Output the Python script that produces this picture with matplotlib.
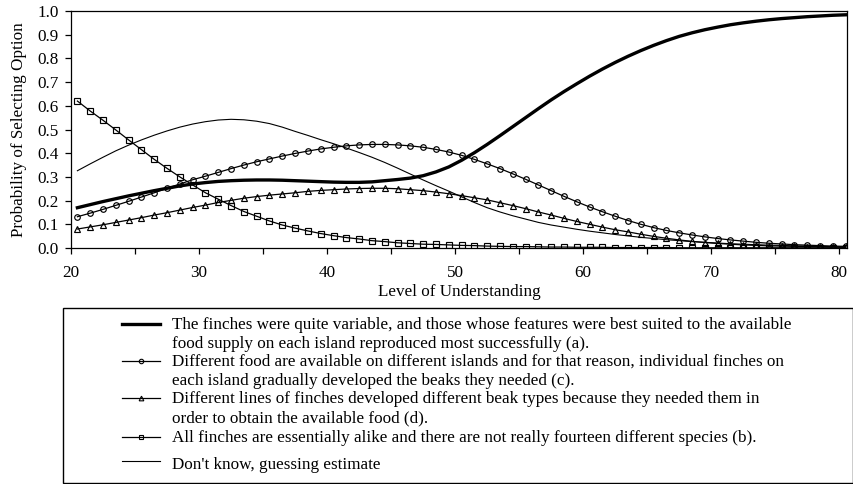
import numpy as np
import matplotlib
matplotlib.use("Agg")
import matplotlib.pyplot as plt
from matplotlib.patches import Rectangle

plt.rcParams['font.family'] = ['Liberation Serif', 'DejaVu Serif']

# Level of understanding (x positions of the curve points)
levels = np.arange(20.5, 80.6, 1.0)

# (a) thick line
p_a = [0.170, 0.183, 0.196, 0.208, 0.220, 0.231, 0.242, 0.252, 0.262, 0.270,
       0.276, 0.281, 0.284, 0.286, 0.287, 0.287, 0.286, 0.284, 0.282, 0.280,
       0.278, 0.277, 0.277, 0.279, 0.284, 0.289, 0.295, 0.305, 0.321, 0.342,
       0.370, 0.402, 0.437, 0.474, 0.512, 0.550, 0.588, 0.625, 0.660, 0.693,
       0.725, 0.755, 0.783, 0.809, 0.833, 0.855, 0.875, 0.893, 0.908, 0.921,
       0.932, 0.942, 0.950, 0.957, 0.963, 0.968, 0.972, 0.976, 0.979, 0.982,
       0.984]
# (c) circles
p_c = [0.132, 0.147, 0.163, 0.180, 0.197, 0.215, 0.233, 0.252, 0.270, 0.288,
       0.303, 0.319, 0.335, 0.350, 0.364, 0.376, 0.388, 0.399, 0.409, 0.418,
       0.425, 0.431, 0.435, 0.437, 0.437, 0.435, 0.431, 0.425, 0.416, 0.405,
       0.391, 0.374, 0.355, 0.335, 0.313, 0.290, 0.266, 0.242, 0.218, 0.195,
       0.173, 0.153, 0.134, 0.116, 0.100, 0.086, 0.074, 0.064, 0.055, 0.047,
       0.040, 0.034, 0.029, 0.024, 0.020, 0.017, 0.014, 0.012, 0.010, 0.008,
       0.007]
# (d) triangles
p_d = [0.080, 0.089, 0.098, 0.108, 0.118, 0.128, 0.139, 0.149, 0.160, 0.171,
       0.181, 0.192, 0.201, 0.210, 0.217, 0.223, 0.228, 0.233, 0.239, 0.243,
       0.246, 0.249, 0.251, 0.252, 0.252, 0.250, 0.246, 0.242, 0.236, 0.229,
       0.221, 0.212, 0.203, 0.191, 0.179, 0.166, 0.152, 0.139, 0.125, 0.112,
       0.100, 0.088, 0.077, 0.068, 0.058, 0.049, 0.041, 0.034, 0.028, 0.023,
       0.019, 0.016, 0.013, 0.011, 0.009, 0.008, 0.007, 0.006, 0.005, 0.004,
       0.003]
# (b) squares
p_b = [0.620, 0.578, 0.539, 0.498, 0.456, 0.415, 0.374, 0.336, 0.300, 0.266,
       0.233, 0.206, 0.179, 0.154, 0.134, 0.114, 0.097, 0.084, 0.072, 0.061,
       0.052, 0.044, 0.038, 0.031, 0.027, 0.022, 0.019, 0.016, 0.015, 0.013,
       0.011, 0.010, 0.008, 0.007, 0.006, 0.006, 0.005, 0.004, 0.004, 0.003,
       0.003, 0.003, 0.002, 0.002, 0.002, 0.002, 0.002, 0.001, 0.001, 0.001,
       0.001, 0.001, 0.001, 0.001, 0.001, 0.001, 0.001, 0.001, 0.001, 0.001,
       0.001]
# Don't know (thin line)
p_dk = [0.326, 0.355, 0.383, 0.410, 0.434, 0.456, 0.476, 0.494, 0.510, 0.523,
        0.533, 0.540, 0.543, 0.541, 0.535, 0.525, 0.510, 0.492, 0.475, 0.457,
        0.440, 0.422, 0.403, 0.383, 0.361, 0.337, 0.312, 0.287, 0.263, 0.240,
        0.216, 0.192, 0.170, 0.152, 0.136, 0.122, 0.108, 0.097, 0.088, 0.079,
        0.071, 0.064, 0.057, 0.051, 0.045, 0.040, 0.035, 0.031, 0.027, 0.024,
        0.021, 0.018, 0.016, 0.014, 0.012, 0.011, 0.009, 0.008, 0.007, 0.006,
        0.005]

labels = [
    "The finches were quite variable, and those whose features were best suited to the available\nfood supply on each island reproduced most successfully (a).",
    "Different food are available on different islands and for that reason, individual finches on\neach island gradually developed the beaks they needed (c).",
    "Different lines of finches developed different beak types because they needed them in\norder to obtain the available food (d).",
    "All finches are essentially alike and there are not really fourteen different species (b).",
    "Don't know, guessing estimate",
]

FS = 12.3
W, H = 854, 484
fig = plt.figure(figsize=(W / 100, H / 100), dpi=100)
ax = fig.add_axes([71 / W, 1 - 248 / H, (847 - 71) / W, (248 - 11) / H])

styles = [
    dict(color='black', lw=2.4, marker=None),
    dict(color='black', lw=0.9, marker='o', ms=4.0, mfc='none', mec='black', mew=0.85),
    dict(color='black', lw=0.9, marker='^', ms=4.2, mfc='none', mec='black', mew=0.85),
    dict(color='black', lw=0.9, marker='s', ms=3.7, mfc='none', mec='black', mew=0.85),
    dict(color='black', lw=0.8, marker=None),
]
series = [p_a, p_c, p_d, p_b, p_dk]
for vals, st in zip(series, styles):
    ax.plot(levels, vals, **st)

ax.set_xlim(20, 80.6)
ax.set_ylim(0, 1.0)
ax.set_xticks([20, 30, 40, 50, 60, 70, 80])
ax.set_xticks([25, 35, 45, 55, 65, 75], minor=True)
ax.set_yticks(np.arange(0, 1.01, 0.1))
ax.set_yticklabels([f"{v:.1f}" for v in np.arange(0, 1.01, 0.1)])
ax.tick_params(axis='both', which='both', direction='out', length=4, width=0.9,
               labelsize=FS, colors='black')
ax.tick_params(axis='y', pad=5)
ax.tick_params(axis='x', pad=8.5)
for sp in ax.spines.values():
    sp.set_linewidth(0.9)
ax.set_xlabel("Level of Understanding", fontsize=FS, labelpad=2)
ax.set_ylabel("Probability of Selecting Option", fontsize=FS, labelpad=7)

# Legend drawn in pixel coordinates
lax = fig.add_axes([0, 0, 1, 1])
lax.set_xlim(0, W)
lax.set_ylim(H, 0)
lax.axis('off')
lax.patch.set_visible(False)
lax.add_patch(Rectangle((63, 308), 853 - 63, 483 - 308, fill=False, lw=1.0, ec='black'))

handle_y = [324, 361, 398, 437, 461]
text_y = [324, 361, 398, 437, 464]
for hy, ty, st, lab in zip(handle_y, text_y, styles, labels):
    lst = dict(st)
    lax.plot([122, 160], [hy, hy], color='black', lw=lst['lw'])
    if lst.get('marker'):
        lax.plot([141], [hy], linestyle='none', marker=lst['marker'], ms=lst['ms'] * 0.8,
                 mfc='none', mec='black', mew=0.8)
    for i, line in enumerate(lab.split("\n")):
        lax.text(172, ty + 5 + i * 19, line, fontsize=FS, va='baseline', ha='left')

fig.savefig("out.png", dpi=100)
